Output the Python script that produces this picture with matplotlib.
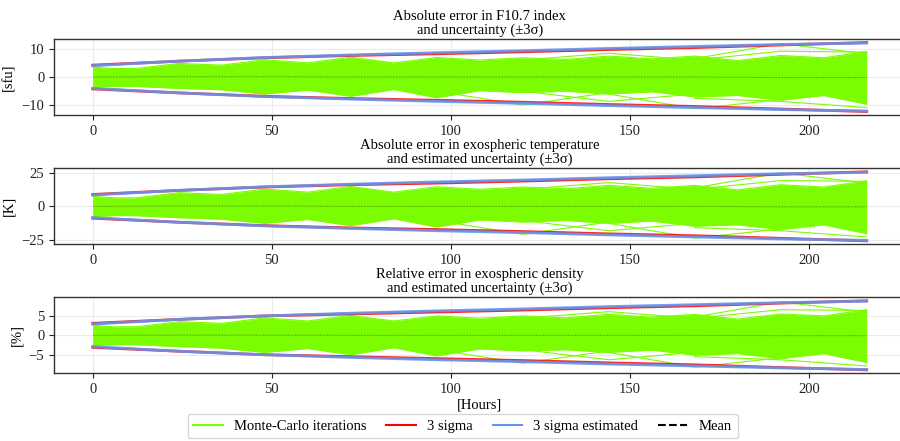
import numpy as np
import matplotlib.pyplot as plt
from matplotlib.lines import Line2D

plt.rcParams['font.family'] = ['Liberation Serif', 'DejaVu Serif']
plt.rcParams['font.size'] = 10.5

# hours for the sigma / mean curves and outlier traces (one point per day)
hours_day = [0, 24, 48, 72, 96, 120, 144, 168, 192, 216]
# hours for the envelope of the dense Monte-Carlo band
hours_band = [0, 6, 12, 24, 36, 48, 60, 72, 84, 96, 108, 120, 132, 144, 156, 168, 180, 192, 204, 216]

# --- F10.7 index [sfu]
f107_band_up = [3.5, 3.0, 3.0, 4.8, 4.2, 6.1, 5.0, 7.0, 5.0, 6.9, 6.0, 6.8, 6.2, 7.4, 6.4, 7.4, 5.8, 7.6, 6.8, 9.0]
f107_band_lo = [-3.6, -3.3, -3.3, -4.0, -4.5, -6.0, -4.6, -6.8, -4.4, -7.3, -4.8, -5.5, -5.0, -6.0, -5.2, -7.0, -6.5, -8.2, -6.5, -9.6]
f107_sig = [4.2, 5.6, 6.8, 7.6, 8.2, 8.9, 9.7, 10.4, 11.3, 12.2]
f107_sig_est = [4.0, 5.6, 6.9, 7.8, 8.6, 9.3, 10.1, 10.8, 11.5, 12.0]
f107_mean = [0.0, 0.1, 0.1, 0.0, 0.0, 0.0, 0.0, 0.0, -0.2, -0.2]
f107_outliers = [
    ([120, 144, 168], [6.0, 8.4, 6.0]),
    ([168, 192, 216], [6.5, 11.8, 8.2]),
    ([168, 192, 216], [6.0, 9.1, 8.8]),
    ([96, 120, 144], [-5.0, -9.9, -5.5]),
    ([120, 144, 168], [-5.0, -8.6, -6.0]),
    ([144, 168, 192], [-6.0, -11.2, -8.0]),
    ([168, 192, 216], [-7.5, -8.6, -10.8]),
]

# --- exospheric temperature [K]
temp_band_up = [7.4, 6.3, 6.3, 10.1, 8.8, 12.8, 10.5, 14.7, 10.5, 14.5, 12.6, 14.3, 13.0, 15.5, 13.4, 15.5, 12.2, 16.0, 14.3, 18.9]
temp_band_lo = [-7.6, -6.9, -6.9, -8.4, -9.5, -12.6, -9.7, -14.3, -9.2, -15.3, -10.1, -11.6, -10.5, -12.6, -10.9, -14.7, -13.7, -17.2, -13.7, -20.2]
temp_sig = [8.8, 11.8, 14.3, 16.0, 17.2, 18.7, 20.4, 21.8, 23.7, 25.6]
temp_sig_est = [8.4, 11.8, 14.5, 16.4, 18.1, 19.5, 21.2, 22.7, 24.2, 25.2]
temp_mean = [0.0, 0.2, 0.2, 0.0, 0.0, 0.0, 0.0, 0.0, -0.4, -0.4]
temp_outliers = [
    ([120, 144, 168], [12.6, 17.6, 12.6]),
    ([168, 192, 216], [13.7, 24.8, 17.2]),
    ([168, 192, 216], [12.6, 19.1, 18.5]),
    ([96, 120, 144], [-10.5, -20.8, -11.6]),
    ([120, 144, 168], [-10.5, -18.1, -12.6]),
    ([144, 168, 192], [-12.6, -23.5, -16.8]),
    ([168, 192, 216], [-15.8, -18.1, -22.7]),
]

# --- exospheric density [%]
dens_band_up = [2.6, 2.2, 2.2, 3.5, 3.1, 4.5, 3.7, 5.1, 3.7, 5.0, 4.4, 5.0, 4.5, 5.4, 4.7, 5.4, 4.2, 5.5, 5.0, 6.6]
dens_band_lo = [-2.6, -2.4, -2.4, -2.9, -3.3, -4.4, -3.4, -5.0, -3.2, -5.3, -3.5, -4.0, -3.7, -4.4, -3.8, -5.1, -4.7, -6.0, -4.7, -7.0]
dens_sig = [3.1, 4.1, 5.0, 5.5, 6.0, 6.5, 7.1, 7.6, 8.3, 8.9]
dens_sig_est = [2.9, 4.1, 5.0, 5.7, 6.3, 6.8, 7.4, 7.9, 8.4, 8.8]
dens_mean = [0.0, 0.05, 0.05, 0.0, 0.0, 0.0, 0.0, 0.0, -0.1, -0.1]
dens_outliers = [
    ([120, 144, 168], [4.4, 6.1, 4.4]),
    ([168, 192, 216], [4.7, 8.6, 6.0]),
    ([168, 192, 216], [4.4, 6.6, 6.4]),
    ([96, 120, 144], [-3.7, -7.2, -4.0]),
    ([120, 144, 168], [-3.7, -6.3, -4.4]),
    ([144, 168, 192], [-4.4, -8.2, -5.8]),
    ([168, 192, 216], [-5.5, -6.3, -7.9]),
]

titles = ['Absolute error in F10.7 index\nand uncertainty (\u00b13\u03c3)',
          'Absolute error in exospheric temperature\nand estimated uncertainty (\u00b13\u03c3)',
          'Relative error in exospheric density\nand estimated uncertainty (\u00b13\u03c3)']
ylabels = ['[sfu]', '[K]', '[%]']
yticks = [[-10, 0, 10], [-25, 0, 25], [-5, 0, 5]]

mc_color = '#7CFC00'
sig_color = '#FF0000'
est_color = '#6495ED'


def draw_panel(ax, band_up, band_lo, sig, sig_est, mean, outliers, title, ylabel, ticks):
    ax.fill_between(hours_band, band_lo, band_up, color=mc_color, lw=0)
    ax.plot(hours_band, band_up, color=mc_color, lw=0.8)
    ax.plot(hours_band, band_lo, color=mc_color, lw=0.8)
    for xs, ys in outliers:
        ax.plot(xs, ys, color=mc_color, lw=0.8)
    ax.plot(hours_day, mean, color='black', ls='--', dashes=(2, 1), lw=0.7, alpha=0.3)
    ax.plot(hours_day, sig, color=sig_color, lw=2, alpha=0.85)
    ax.plot(hours_day, [-v for v in sig], color=sig_color, lw=2, alpha=0.85)
    ax.plot(hours_day, sig_est, color=est_color, lw=2, alpha=0.9)
    ax.plot(hours_day, [-v for v in sig_est], color=est_color, lw=2, alpha=0.9)
    ax.set_title(title, fontsize=10.5, pad=4, linespacing=1.0)
    ax.set_ylabel(ylabel)
    ax.set_yticks(ticks)
    ax.set_xticks([0, 50, 100, 150, 200])
    ax.grid(True, color='#ececec', lw=0.8)
    ax.set_axisbelow(True)
    for s in ax.spines.values():
        s.set_color('#333333')
        s.set_linewidth(1.0)
    ax.tick_params(colors='#222222', labelsize=10.5)


fig = plt.figure(figsize=(9, 4.41), dpi=100)
boxes = [[0.06, 0.7392, 0.946, 0.1723],
         [0.06, 0.446, 0.946, 0.1723],
         [0.06, 0.1535, 0.946, 0.1723]]
axes = [fig.add_axes(b) for b in boxes]

draw_panel(axes[0], f107_band_up, f107_band_lo, f107_sig, f107_sig_est, f107_mean, f107_outliers,
           titles[0], ylabels[0], yticks[0])
draw_panel(axes[1], temp_band_up, temp_band_lo, temp_sig, temp_sig_est, temp_mean, temp_outliers,
           titles[1], ylabels[1], yticks[1])
draw_panel(axes[2], dens_band_up, dens_band_lo, dens_sig, dens_sig_est, dens_mean, dens_outliers,
           titles[2], ylabels[2], yticks[2])
for ax in axes:
    ax.set_xlim(-10.8, 226.8)
axes[2].set_xlabel('[Hours]', labelpad=2)

handles = [Line2D([], [], color=mc_color, lw=1.5),
           Line2D([], [], color=sig_color, lw=1.5),
           Line2D([], [], color=est_color, lw=1.5),
           Line2D([], [], color='black', ls='--', lw=1.5)]
labels = ['Monte-Carlo iterations', '3 sigma', '3 sigma estimated', 'Mean']
fig.legend(handles, labels, loc='center', bbox_to_anchor=(0.514, 0.034), ncol=4,
           fontsize=10.5, columnspacing=1.35, edgecolor='#cccccc')

fig.savefig('out.png', dpi=100)
